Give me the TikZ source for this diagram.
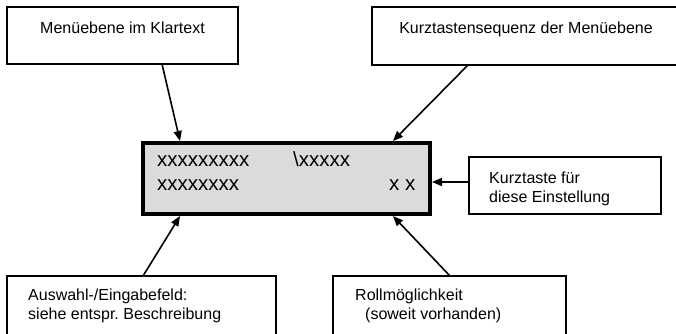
\documentclass[tikz,border=0pt]{standalone}
\usepackage{fontspec}
\setmainfont{Liberation Sans}
\usetikzlibrary{arrows.meta,calc}
\frenchspacing
\begin{document}
\begin{tikzpicture}[x=1pt,y=-1pt,
  box/.style={draw=black,line width=1.6pt,fill=white},
  disp/.style={draw=black,line width=3.8pt,fill=black!14},
  lbl/.style={font=\fontsize{16}{19}\selectfont,inner sep=0pt},
  dtxt/.style={font=\fontsize{20.5}{24}\selectfont,inner sep=0pt,anchor=base west},
  arr/.style={line width=1.6pt,-{Triangle[length=10pt,width=8pt]}}]
\useasboundingbox (0,0) rectangle (676,333);
\fill[white] (0,0) rectangle (676,333);
% boxes
\path[box] (7,7) rectangle (238,64);
\coordinate (b1sw) at (7,64);
\path[box] (372,7) rectangle (700,65);
\coordinate (b2sw) at (372,65);
\path[disp] (142.9,142.9) rectangle (430.1,214.1);
\coordinate (dnw) at (141,141);
\coordinate (dne) at (432,141);
\coordinate (dsw) at (141,216);
\coordinate (dse) at (432,216);
\path[box] (469,157) rectangle (661,214);
\coordinate (kw) at (468.2,182);
\path[box] (7,276) rectangle (276,350);
\coordinate (anw) at (7,276);
\path[box] (333,276) rectangle (566,350);
\coordinate (rnw) at (333,276);
% texts
\node[lbl,anchor=base] (t1) at (122.5,33) {Menüebene im Klartext};
\node[lbl,anchor=base] (t2) at (526,33) {Kurztastensequenz der Menüebene};
\node[dtxt] (d1) at (157,166.5) {xxxxxxxxx};
\node[dtxt] (d2) at (293,166.5) {\textbackslash xxxxx};
\node[dtxt] (d3) at (157,190.5) {xxxxxxxx};
\node[dtxt] (d4) at (389,190.5) {x x};
\node[lbl,anchor=base west] (k1) at (489,183) {Kurztaste für};
\node[lbl,anchor=base west] (k2) at (489,202) {diese Einstellung};
\node[lbl,anchor=base west] (a1) at (28,300) {Auswahl-/Eingabefeld:};
\node[lbl,anchor=base west] (a2) at (28,319) {siehe entspr. Beschreibung};
\node[lbl,anchor=base west] (r1) at (355,300) {Rollmöglichkeit};
\node[lbl,anchor=base west] (r2) at (365,319) {(soweit vorhanden)};
% arrows
\draw[arr] ($(b1sw)+(155,0)$) -- ($(dnw)+(39,0)$);
\draw[arr] ($(b2sw)+(96,0)$) -- ($(dne)+(-39,0)$);
\draw[arr] (kw) -- (kw -| dne);
\draw[arr] ($(anw)+(136,0)$) -- ($(dsw)+(39,0)$);
\draw[arr] ($(rnw)+(117,0)$) -- ($(dse)+(-39,0)$);
\end{tikzpicture}
\end{document}
